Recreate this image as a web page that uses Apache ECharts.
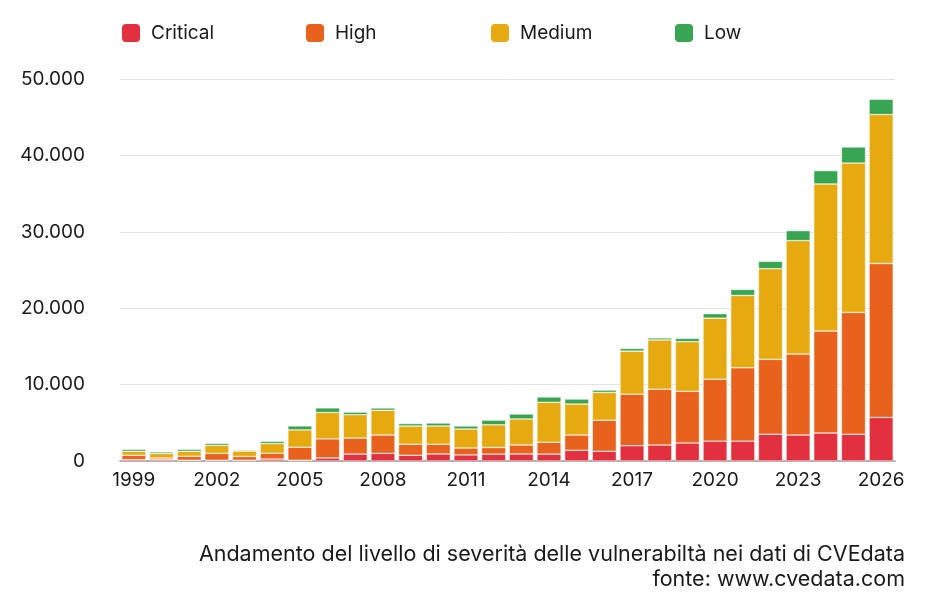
<!DOCTYPE html>
<html lang="it">
<head>
    <meta charset="UTF-8">
    <title>Severità vulnerabilità CVE</title>
    <script type="text/javascript" src="https://cdn.jsdelivr.net/npm/echarts@6/dist/echarts.min.js"></script>
    <style>
        html, body { margin: 0; padding: 0; background: #fff; }
    </style>
</head>
<body>
    <div id="main" style="width: 935px;height:612px;"></div>
    <script type="text/javascript">
        // anni
        var years = [];
        for (var y = 1999; y <= 2026; y++) { years.push(String(y)); }

        // valori per livello di severità
        var critical = [180, 180, 100, 100, 100, 260, 100, 400, 900, 1000, 750, 920, 800, 900, 920, 900,
                        1400, 1270, 2000, 2100, 2360, 2600, 2600, 3500, 3400, 3660, 3500, 5700];
        var high = [570, 210, 520, 900, 500, 750, 1700, 2500, 2100, 2400, 1440, 1270, 900, 870, 1180, 1550,
                    2000, 4060, 6750, 7300, 6760, 8100, 9600, 9800, 10600, 13350, 15950, 20150];
        var medium = [520, 580, 650, 1050, 700, 1270, 2270, 3450, 3060, 3240, 2390, 2390, 2490, 2970, 3400, 5230,
                      4060, 3650, 5630, 6450, 6500, 8000, 9470, 11870, 14850, 19250, 19550, 19500];
        var low = [260, 210, 260, 260, 130, 300, 520, 600, 340, 300, 320, 390, 390, 610, 650, 700,
                   650, 300, 350, 260, 430, 580, 780, 960, 1300, 1750, 2100, 2000];

        var seriesNames = ['Critical', 'High', 'Medium', 'Low'];
        var colors = ['#e3303f', '#e8621d', '#e6aa10', '#37a552'];
        var yTicks = [0, 10000, 20000, 30000, 40000, 50000];
        var legendLeft = [115, 299, 484, 668];

        var font = 'Inter, "Open Sans", sans-serif';
        var myChart = echarts.init(document.getElementById('main'));

        function fmt(v) {
            return String(v).replace(/\B(?=(\d{3})+(?!\d))/g, '.');
        }

        var dataSets = [critical, high, medium, low];
        var series = seriesNames.map(function (name, i) {
            return {
                name: name,
                type: 'bar',
                stack: 'tot',
                barCategoryGap: '13%',
                data: dataSets[i],
                itemStyle: { color: colors[i], borderColor: '#ffffff', borderWidth: 0.5 }
            };
        });

        // una legenda per voce, per avere la stessa spaziatura dell'originale
        var legends = seriesNames.map(function (name, i) {
            return {
                left: legendLeft[i],
                top: 17,
                itemWidth: 20,
                itemHeight: 20,
                icon: 'roundRect',
                textStyle: { fontSize: 19, color: '#1a1a1a', fontFamily: font, padding: [0, 0, 0, 5] },
                data: [name]
            };
        });

        var option = {
            animation: false,
            color: colors,
            textStyle: { fontFamily: font },
            legend: legends,
            grid: { left: 120, right: 40, top: 79, bottom: 151 },
            xAxis: {
                type: 'category',
                data: years,
                axisTick: { show: false },
                axisLine: { lineStyle: { color: '#999', width: 1.5 } },
                axisLabel: { interval: 2, fontSize: 19, color: '#1a1a1a', margin: 10, fontFamily: font }
            },
            yAxis: {
                type: 'value',
                min: yTicks[0],
                max: yTicks[yTicks.length - 1],
                interval: 10000,
                axisLabel: { fontSize: 19, color: '#1a1a1a', margin: 35, fontFamily: font, formatter: fmt },
                splitLine: { lineStyle: { color: '#e2e2e2', width: 1 } }
            },
            graphic: [{
                type: 'text',
                right: 30,
                top: 544,
                style: {
                    text: 'Andamento del livello di severità delle vulnerabiltà nei dati di CVEdata',
                    font: '21.5px ' + font,
                    fill: '#1a1a1a'
                }
            }, {
                type: 'text',
                right: 30,
                top: 569,
                style: {
                    text: 'fonte: www.cvedata.com',
                    font: '21.5px ' + font,
                    fill: '#1a1a1a'
                }
            }],
            series: series
        };

        myChart.setOption(option);
    </script>
</body>
</html>
